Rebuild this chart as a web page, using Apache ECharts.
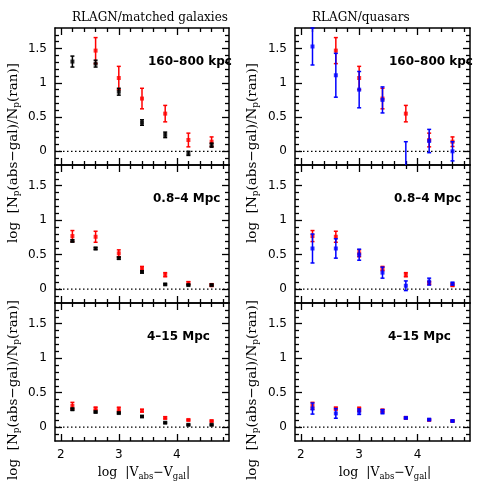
<!DOCTYPE html>
<html><head><meta charset="utf-8">
<script src="https://cdn.jsdelivr.net/npm/echarts@6/dist/echarts.min.js"></script>
<style>html,body{margin:0;padding:0;background:#fff}#c{width:496px;height:496px}</style>
</head><body><div id="c"></div>
<script>
// ---------- data ----------
const xVals = [2.2, 2.6, 3.0, 3.4, 3.8, 4.2, 4.6];

// 160-800 kpc
const galTop    = [1.31, 1.28, 0.87, 0.42, 0.24, -0.03, 0.09];
const galTopErr = [0.08, 0.05, 0.05, 0.04, 0.04, 0.03, 0.03];
const rlTop     = [null, 1.47, 1.07, 0.77, 0.55, 0.165, 0.14];
const rlTopErr  = [null, 0.19, 0.17, 0.15, 0.12, 0.10, 0.07];
const qsoTop    = [1.53, 1.11, 0.90, 0.75, -0.30, 0.15, 0.00];
const qsoTopErr = [0.27, 0.32, 0.265, 0.19, 0.44, 0.17, 0.14];

// 0.8-4 Mpc
const galMid    = [0.70, 0.59, 0.45, 0.25, 0.07, 0.06, 0.06];
const galMidErr = [0.015, 0.015, 0.015, 0.015, 0.01, 0.01, 0.01];
const rlMid     = [0.77, 0.76, 0.52, 0.30, 0.21, 0.09, 0.06];
const rlMidErr  = [0.08, 0.08, 0.05, 0.03, 0.03, 0.02, 0.02];
const qsoMid    = [0.59, 0.59, 0.50, 0.24, 0.05, 0.11, 0.08];
const qsoMidErr = [0.21, 0.14, 0.08, 0.08, 0.07, 0.05, 0.02];

// 4-15 Mpc
const galBot    = [0.26, 0.22, 0.205, 0.155, 0.065, 0.035, 0.035];
const galBotErr = [0.015, 0.01, 0.01, 0.01, 0.01, 0.01, 0.01];
const rlBot     = [0.31, 0.27, 0.26, 0.24, 0.135, 0.105, 0.09];
const rlBotErr  = [0.05, 0.02, 0.03, 0.02, 0.015, 0.01, 0.01];
const qsoBot    = [0.27, 0.20, 0.225, 0.225, 0.135, 0.11, 0.09];
const qsoBotErr = [0.08, 0.07, 0.04, 0.03, 0.01, 0.01, 0.01];

const xMajorTicks = [2, 3, 4];
const yMajorTicks = [0, 0.5, 1, 1.5];
const rowLabels = ['160\u2013800 kpc', '0.8\u20134 Mpc', '4\u201315 Mpc'];
const colTitles = ['RLAGN/matched galaxies', 'RLAGN/quasars'];

// ---------- layout ----------
const X_MIN = 1.9, X_MAX = 4.9, Y_MIN = -0.2, Y_MAX = 1.8;
const colLeft = [55, 295], colWidth = [174, 175];
const rowTop = [28, 165, 303], rowHeight = [137, 138, 138];

const xMinorTicks = [], yMinorTicks = [];
for (let v = 2.2; v < 4.9; v += 0.2) { const r = Math.round(v * 10) / 10; if (!xMajorTicks.includes(r)) xMinorTicks.push(r); }
for (let v = -0.1; v < 1.8; v += 0.1) { const r = Math.round(v * 10) / 10; if (!yMajorTicks.includes(r)) yMinorTicks.push(r); }

const panels = [
  { row: 0, col: 0, sets: [[rlTop, rlTopErr, '#ff0000'], [galTop, galTopErr, '#000000']] },
  { row: 0, col: 1, sets: [[rlTop, rlTopErr, '#ff0000'], [qsoTop, qsoTopErr, '#0000ff']] },
  { row: 1, col: 0, sets: [[rlMid, rlMidErr, '#ff0000'], [galMid, galMidErr, '#000000']] },
  { row: 1, col: 1, sets: [[rlMid, rlMidErr, '#ff0000'], [qsoMid, qsoMidErr, '#0000ff']] },
  { row: 2, col: 0, sets: [[rlBot, rlBotErr, '#ff0000'], [galBot, galBotErr, '#000000']] },
  { row: 2, col: 1, sets: [[rlBot, rlBotErr, '#ff0000'], [qsoBot, qsoBotErr, '#0000ff']] }
];

const grids = [], xAxes = [], yAxes = [], series = [], graphics = [];
const lineW = 1.5;
const tickStyle = { color: '#000', width: 1.3 };

panels.forEach((p, gi) => {
  grids.push({ left: colLeft[p.col], top: rowTop[p.row], width: colWidth[p.col], height: rowHeight[p.row], containLabel: false, outerBoundsMode: 'none' });
  const showX = p.row === 2;
  ['bottom', 'top'].forEach(pos => {
    xAxes.push({ gridIndex: gi, type: 'value', min: X_MIN, max: X_MAX, position: pos,
      axisLine: { show: true, onZero: false, lineStyle: { color: '#000', width: lineW } },
      axisTick: { show: true, inside: true, length: 7, customValues: xMajorTicks, lineStyle: tickStyle },
      axisLabel: { show: showX && pos === 'bottom', customValues: xMajorTicks, margin: 8, color: '#000', fontFamily: 'DejaVu Sans', fontSize: 12 },
      splitLine: { show: false }, minorTick: { show: false } });
    xAxes.push({ gridIndex: gi, type: 'value', min: X_MIN, max: X_MAX, position: pos,
      axisLine: { show: false, onZero: false },
      axisTick: { show: true, inside: true, length: 4, customValues: xMinorTicks, lineStyle: tickStyle },
      axisLabel: { show: false }, splitLine: { show: false } });
  });
  ['left', 'right'].forEach(pos => {
    yAxes.push({ gridIndex: gi, type: 'value', min: Y_MIN, max: Y_MAX, position: pos,
      axisLine: { show: true, onZero: false, lineStyle: { color: '#000', width: lineW } },
      axisTick: { show: true, inside: true, length: 7, customValues: yMajorTicks, lineStyle: tickStyle },
      axisLabel: { show: pos === 'left', customValues: yMajorTicks, margin: 8, color: '#000', fontFamily: 'DejaVu Sans', fontSize: 12 },
      splitLine: { show: false } });
    yAxes.push({ gridIndex: gi, type: 'value', min: Y_MIN, max: Y_MAX, position: pos,
      axisLine: { show: false, onZero: false },
      axisTick: { show: true, inside: true, length: 4, customValues: yMinorTicks, lineStyle: tickStyle },
      axisLabel: { show: false }, splitLine: { show: false } });
  });
  const xi = gi * 4, yi = gi * 4;
  // dotted zero line
  series.push({ type: 'line', xAxisIndex: xi, yAxisIndex: yi, data: [[X_MIN, 0], [X_MAX, 0]], symbol: 'none', silent: true,
    lineStyle: { color: '#000', width: 1.2, type: [1.5, 2.5] }, z: 1 });
  p.sets.forEach(([vals, errs, color], si) => {
    const errData = [], ptData = [];
    xVals.forEach((x, i) => {
      if (vals[i] == null) return;
      errData.push([x, vals[i] - errs[i], vals[i] + errs[i]]);
      ptData.push([x, vals[i]]);
    });
    series.push({ type: 'custom', xAxisIndex: xi, yAxisIndex: yi, data: errData, z: 2 + si * 2, silent: true,
      renderItem: (params, api) => {
        const x = api.value(0), lo = api.value(1), hi = api.value(2);
        const pHi = api.coord([x, hi]), pLo = api.coord([x, lo]);
        const cs = params.coordSys;
        const yTop = Math.max(cs.y, pHi[1]), yBot = Math.min(cs.y + cs.height, pLo[1]);
        const st = { stroke: color, lineWidth: 1.5 };
        const ch = [];
        if (yBot > yTop) ch.push({ type: 'line', shape: { x1: pHi[0], y1: yTop, x2: pHi[0], y2: yBot }, style: st });
        if (pHi[1] >= cs.y && pHi[1] <= cs.y + cs.height) ch.push({ type: 'line', shape: { x1: pHi[0] - 2, y1: pHi[1], x2: pHi[0] + 2, y2: pHi[1] }, style: st });
        if (pLo[1] <= cs.y + cs.height && pLo[1] >= cs.y) ch.push({ type: 'line', shape: { x1: pLo[0] - 2, y1: pLo[1], x2: pLo[0] + 2, y2: pLo[1] }, style: st });
        return { type: 'group', children: ch };
      } });
    series.push({ type: 'scatter', xAxisIndex: xi, yAxisIndex: yi, data: ptData, symbol: 'rect', symbolSize: 4, clip: true, silent: true,
      itemStyle: { color: color }, z: 3 + si * 2 });
  });
  // panel label
  graphics.push({ type: 'text', left: colLeft[p.col] + [93, 94][p.col] - (p.row === 0 ? 0 : (p.row === 1 ? -5 : 1)), top: rowTop[p.row] + 28,
    style: { text: rowLabels[p.row], fontFamily: 'DejaVu Sans', fontWeight: 'bold', fontSize: 12, fill: '#000' }, z: 50 });
});

// column titles
colTitles.forEach((t, c) => {
  graphics.push({ type: 'text', left: colLeft[c] + 17, top: 12,
    style: { text: t, fontFamily: 'DejaVu Serif', fontSize: 12, fill: '#000' } });
});

const richY = {
  a: { fontFamily: 'DejaVu Serif', fontSize: 13.5, fill: '#000', lineHeight: 17, verticalAlign: 'middle' },
  s: { fontFamily: 'DejaVu Serif', fontSize: 9, fill: '#000', lineHeight: 9, verticalAlign: 'bottom' }
};
const richX = {
  a: { fontFamily: 'DejaVu Serif', fontSize: 12.5, fill: '#000', lineHeight: 16, verticalAlign: 'middle' },
  s: { fontFamily: 'DejaVu Serif', fontSize: 8.5, fill: '#000', lineHeight: 9, verticalAlign: 'bottom' }
};
const yTitle = '{a|log  [N}{s|p}{a|(abs\u2212gal)/N}{s|p}{a|(ran)]}';
const xTitle = '{a|log  |V}{s|abs}{a|\u2212V}{s|gal}{a||}';
[[13, 153], [13, 390], [252, 153], [252, 390]].forEach(([x, y]) => {
  graphics.push({ type: 'text', x: x, y: y, rotation: Math.PI / 2,
    style: { text: yTitle, rich: richY, align: 'center', verticalAlign: 'middle', x: 0, y: 0 } });
});
[[144, 473], [385, 473]].forEach(([x, y]) => {
  graphics.push({ type: 'text', x: x, y: y,
    style: { text: xTitle, rich: richX, align: 'center', verticalAlign: 'middle', x: 0, y: 0 } });
});

const chart = echarts.init(document.getElementById('c'), null, { renderer: 'canvas' });
chart.setOption({
  animation: false,
  backgroundColor: '#fff',
  grid: grids,
  xAxis: xAxes,
  yAxis: yAxes,
  series: series,
  graphic: graphics
});
</script>
</body></html>
